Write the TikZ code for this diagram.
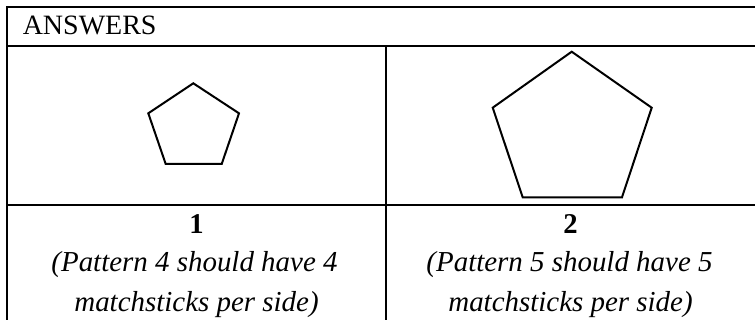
\documentclass[tikz,border=0pt]{standalone}
\usepackage{fontspec}
\setmainfont{Liberation Serif}
\begin{document}
\begin{tikzpicture}[x=0.75pt,y=-0.75pt,
  rule/.style={line width=1.8pt,line cap=rect},
  penta/.style={line width=1.5pt,line join=miter},
  txt/.style={inner sep=0pt,anchor=base,font=\fontsize{21}{25}\selectfont},
  num/.style={txt,font=\fontsize{21.5}{25}\selectfont\bfseries},
  note/.style={txt,font=\fontsize{21.7}{25}\selectfont\itshape}]
\useasboundingbox (0,0) rectangle (755,320);
% table rules
\draw[rule] (755,7.3) -- (7,7.3) -- (7,325);
\draw[rule] (7,46) -- (755,46);
\draw[rule] (7,205) -- (755,205);
\draw[rule] (386,46) -- (386,325);
% header
\node[txt,anchor=base west] (head) at (22.5,35) {ANSWERS};
% small pentagon
\draw[penta] (193.3,83.3) -- (239,113.3) -- (221.7,164) -- (165.7,164) -- (148.3,113.3) -- cycle;
% large pentagon
\draw[penta] (571.7,51.7) -- (651.7,107.7) -- (622,197.3) -- (522.7,197.3) -- (492.7,107.7) -- cycle;
% answers
\node[num] (n1) at (196.5,233.3) {1};
\node[note] (a1) at (194.5,271) {(Pattern 4 should have 4};
\node[note] (b1) at (196.5,311.5) {matchsticks per side)};
\node[num] (n2) at (570.5,233.3) {2};
\node[note] (a2) at (569.5,271) {(Pattern 5 should have 5};
\node[note] (b2) at (570.5,311.5) {matchsticks per side)};
\end{tikzpicture}
\end{document}
